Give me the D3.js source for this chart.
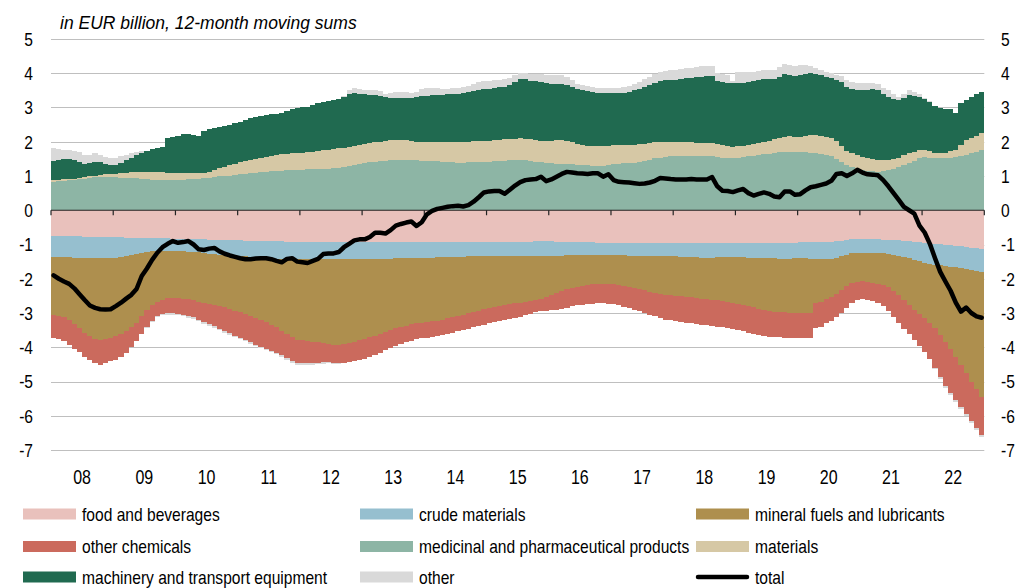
<!DOCTYPE html>
<html>
<head>
<meta charset="utf-8">
<script src="https://cdn.jsdelivr.net/npm/d3@7/dist/d3.min.js"></script>
<style>
body { margin: 0; background: #fff; }
text { font-family: "Liberation Sans", Arial, sans-serif; fill: #000; }
.title { font-style: italic; }
</style>
</head>
<body>
<div id="chart"></div>
<script>
// year labels on the x axis (monthly data, jan 2008 - dec 2022)
var years = ["08", "09", "10", "11", "12", "13", "14", "15", "16", "17", "18", "19", "20", "21", "22"];
var yTicks = [5, 4, 3, 2, 1, 0, -1, -2, -3, -4, -5, -6, -7];

// negative contributions (one line per year)
var food = [
	-.74,-.74,-.75,-.75,-.76,-.76,-.77,-.77,-.78,-.78,-.79,-.79,
	-.79,-.79,-.80,-.80,-.80,-.81,-.81,-.81,-.82,-.82,-.82,-.83,
	-.83,-.83,-.84,-.84,-.85,-.85,-.86,-.86,-.87,-.87,-.88,-.88,
	-.88,-.89,-.89,-.90,-.90,-.90,-.91,-.91,-.91,-.92,-.92,-.92,
	-.92,-.92,-.93,-.93,-.93,-.94,-.94,-.94,-.94,-.93,-.93,-.92,
	-.92,-.92,-.92,-.92,-.92,-.92,-.92,-.93,-.93,-.93,-.94,-.94,
	-.94,-.94,-.94,-.94,-.94,-.94,-.94,-.93,-.93,-.93,-.93,-.93,
	-.93,-.93,-.93,-.93,-.92,-.92,-.92,-.92,-.92,-.91,-.91,-.91,
	-.91,-.92,-.92,-.92,-.93,-.93,-.93,-.94,-.94,-.95,-.95,-.95,
	-.95,-.95,-.95,-.95,-.95,-.95,-.95,-.95,-.96,-.96,-.96,-.96,
	-.96,-.96,-.96,-.96,-.96,-.96,-.96,-.96,-.95,-.95,-.95,-.95,
	-.95,-.95,-.95,-.95,-.95,-.96,-.96,-.96,-.97,-.97,-.96,-.95,
	-.94,-.93,-.93,-.93,-.93,-.92,-.92,-.91,-.89,-.87,-.85,-.84,
	-.84,-.84,-.85,-.85,-.86,-.87,-.87,-.88,-.89,-.90,-.92,-.94,
	-.95,-.96,-.98,-.99,-1.00,-1.01,-1.03,-1.05,-1.07,-1.09,-1.11,-1.14
];
var crude = [
	-.62,-.62,-.62,-.62,-.62,-.62,-.62,-.62,-.62,-.62,-.61,-.60,
	-.59,-.57,-.53,-.50,-.47,-.43,-.40,-.38,-.36,-.36,-.36,-.36,
	-.36,-.37,-.37,-.38,-.38,-.40,-.41,-.43,-.43,-.44,-.44,-.45,
	-.46,-.46,-.47,-.47,-.48,-.49,-.49,-.50,-.51,-.51,-.51,-.51,
	-.51,-.51,-.50,-.50,-.50,-.49,-.49,-.49,-.49,-.50,-.50,-.51,
	-.51,-.51,-.51,-.50,-.50,-.49,-.48,-.47,-.46,-.45,-.45,-.44,
	-.44,-.44,-.43,-.43,-.43,-.43,-.43,-.43,-.42,-.42,-.42,-.42,
	-.42,-.42,-.42,-.42,-.43,-.43,-.43,-.43,-.43,-.43,-.42,-.42,
	-.42,-.41,-.41,-.40,-.39,-.39,-.38,-.37,-.37,-.36,-.36,-.36,
	-.36,-.37,-.37,-.38,-.38,-.39,-.39,-.40,-.39,-.39,-.39,-.39,
	-.39,-.40,-.40,-.41,-.41,-.42,-.42,-.42,-.42,-.42,-.42,-.42,
	-.42,-.42,-.43,-.43,-.44,-.44,-.44,-.44,-.44,-.45,-.45,-.45,
	-.46,-.47,-.48,-.50,-.50,-.51,-.50,-.48,-.45,-.43,-.41,-.40,
	-.40,-.40,-.39,-.39,-.40,-.41,-.43,-.45,-.47,-.50,-.52,-.55,
	-.58,-.60,-.61,-.62,-.63,-.64,-.64,-.64,-.64,-.64,-.65,-.65
];
var fuels = [
	-1.70,-1.72,-1.75,-1.83,-1.94,-2.07,-2.19,-2.29,-2.36,-2.39,-2.36,-2.33,
	-2.28,-2.24,-2.19,-2.12,-2.01,-1.86,-1.71,-1.59,-1.50,-1.44,-1.39,-1.37,
	-1.37,-1.38,-1.39,-1.41,-1.44,-1.45,-1.46,-1.47,-1.49,-1.52,-1.56,-1.60,
	-1.64,-1.68,-1.72,-1.77,-1.82,-1.88,-1.94,-2.01,-2.10,-2.19,-2.28,-2.35,
	-2.37,-2.39,-2.41,-2.43,-2.46,-2.48,-2.50,-2.50,-2.48,-2.45,-2.41,-2.37,
	-2.33,-2.28,-2.23,-2.19,-2.13,-2.09,-2.05,-2.01,-1.98,-1.95,-1.91,-1.90,
	-1.88,-1.86,-1.85,-1.82,-1.79,-1.75,-1.72,-1.69,-1.66,-1.62,-1.58,-1.54,
	-1.51,-1.47,-1.44,-1.41,-1.39,-1.37,-1.35,-1.33,-1.30,-1.28,-1.25,-1.21,
	-1.15,-1.09,-1.03,-.98,-.94,-.91,-.89,-.87,-.85,-.84,-.83,-.83,
	-.84,-.85,-.88,-.90,-.93,-.96,-1.00,-1.03,-1.07,-1.10,-1.12,-1.13,
	-1.14,-1.15,-1.16,-1.17,-1.19,-1.20,-1.22,-1.23,-1.26,-1.28,-1.30,-1.33,
	-1.36,-1.39,-1.42,-1.45,-1.48,-1.51,-1.54,-1.56,-1.56,-1.56,-1.58,-1.60,
	-1.60,-1.60,-1.58,-1.29,-1.24,-1.17,-1.11,-1.06,-.99,-.92,-.87,-.85,
	-.84,-.85,-.87,-.90,-.92,-.97,-1.05,-1.14,-1.25,-1.36,-1.47,-1.54,
	-1.62,-1.72,-1.86,-2.03,-2.21,-2.40,-2.61,-2.83,-3.05,-3.27,-3.46,-3.65
];
var chemicals = [
	-.66,-.68,-.70,-.72,-.72,-.70,-.70,-.70,-.70,-.73,-.71,-.68,
	-.70,-.68,-.64,-.58,-.54,-.50,-.48,-.44,-.40,-.40,-.44,-.45,
	-.46,-.47,-.49,-.50,-.52,-.56,-.60,-.63,-.67,-.70,-.71,-.73,
	-.74,-.75,-.77,-.78,-.78,-.77,-.76,-.74,-.72,-.70,-.69,-.68,
	-.67,-.65,-.62,-.59,-.55,-.53,-.52,-.53,-.54,-.55,-.56,-.57,
	-.58,-.58,-.56,-.55,-.54,-.53,-.52,-.50,-.49,-.48,-.47,-.46,
	-.46,-.45,-.44,-.44,-.44,-.45,-.45,-.45,-.45,-.45,-.45,-.45,
	-.44,-.45,-.45,-.45,-.44,-.43,-.42,-.39,-.37,-.36,-.37,-.39,
	-.44,-.48,-.51,-.54,-.55,-.55,-.56,-.56,-.57,-.57,-.58,-.59,
	-.60,-.61,-.62,-.63,-.64,-.65,-.66,-.67,-.68,-.70,-.72,-.73,
	-.73,-.74,-.76,-.76,-.76,-.76,-.75,-.76,-.77,-.77,-.78,-.78,
	-.78,-.78,-.78,-.78,-.77,-.76,-.75,-.74,-.74,-.74,-.74,-.73,
	-.73,-.73,-.73,-.73,-.73,-.70,-.69,-.68,-.67,-.63,-.59,-.54,
	-.52,-.53,-.55,-.58,-.61,-.70,-.77,-.83,-.85,-.86,-.88,-.94,
	-1.00,-1.07,-1.15,-1.24,-1.29,-1.30,-1.27,-1.23,-1.19,-1.15,-1.13,-1.12
];

// positive contributions
var medicinal = [
	.83,.84,.86,.87,.88,.90,.92,.94,.96,.97,.98,.97,
	.96,.95,.95,.95,.93,.92,.90,.89,.88,.88,.88,.88,
	.88,.89,.90,.91,.92,.93,.95,.97,.99,1.00,1.01,1.03,
	1.05,1.07,1.09,1.10,1.11,1.13,1.14,1.15,1.16,1.17,1.18,1.18,
	1.18,1.19,1.19,1.20,1.20,1.21,1.22,1.24,1.27,1.30,1.33,1.36,
	1.38,1.40,1.42,1.43,1.45,1.46,1.47,1.47,1.47,1.46,1.46,1.45,
	1.45,1.44,1.43,1.42,1.41,1.40,1.39,1.39,1.40,1.40,1.41,1.42,
	1.42,1.43,1.44,1.45,1.46,1.47,1.47,1.46,1.44,1.42,1.40,1.38,
	1.37,1.36,1.36,1.35,1.34,1.33,1.32,1.31,1.30,1.29,1.30,1.32,
	1.34,1.36,1.37,1.38,1.39,1.41,1.44,1.48,1.52,1.54,1.56,1.57,
	1.57,1.58,1.59,1.59,1.59,1.59,1.59,1.58,1.56,1.54,1.52,1.52,
	1.53,1.55,1.57,1.59,1.61,1.63,1.65,1.67,1.69,1.71,1.71,1.70,
	1.71,1.70,1.68,1.66,1.64,1.61,1.57,1.50,1.40,1.32,1.26,1.21,
	1.18,1.16,1.14,1.13,1.14,1.17,1.21,1.26,1.32,1.38,1.45,1.52,
	1.55,1.54,1.52,1.52,1.53,1.54,1.56,1.58,1.61,1.66,1.71,1.76
];
var materials = [
	.06,.05,.04,.04,.04,.04,.04,.05,.05,.06,.07,.08,
	.10,.13,.15,.17,.20,.21,.23,.24,.24,.23,.21,.20,
	.20,.19,.18,.17,.16,.17,.18,.20,.23,.27,.31,.33,
	.35,.36,.37,.40,.42,.43,.45,.46,.47,.48,.48,.49,
	.50,.51,.52,.53,.55,.56,.57,.57,.56,.56,.55,.55,
	.55,.56,.56,.57,.57,.58,.58,.58,.57,.56,.54,.54,
	.53,.54,.55,.56,.57,.58,.59,.60,.60,.61,.61,.61,
	.61,.61,.61,.62,.62,.62,.63,.63,.63,.63,.63,.63,
	.64,.68,.69,.68,.64,.60,.59,.58,.58,.58,.57,.56,
	.56,.55,.54,.53,.52,.51,.50,.48,.46,.45,.44,.43,
	.43,.41,.39,.39,.38,.38,.37,.38,.37,.36,.35,.34,
	.34,.33,.33,.34,.36,.37,.38,.40,.42,.44,.45,.44,
	.44,.47,.51,.54,.54,.54,.54,.52,.48,.42,.40,.39,
	.38,.37,.36,.34,.33,.31,.29,.27,.28,.28,.26,.24,
	.21,.18,.16,.14,.15,.18,.20,.32,.44,.46,.47,.49
];
var machinery = [
	.56,.58,.59,.58,.55,.48,.39,.39,.41,.37,.30,.27,
	.27,.31,.36,.42,.49,.55,.61,.65,.70,.75,1.03,1.06,
	1.08,1.15,1.14,1.11,1.09,1.20,1.23,1.23,1.21,1.19,1.17,1.18,
	1.18,1.20,1.22,1.22,1.22,1.22,1.22,1.21,1.22,1.25,1.30,1.33,
	1.33,1.32,1.35,1.39,1.42,1.43,1.43,1.44,1.47,1.52,1.54,1.49,
	1.45,1.41,1.39,1.35,1.28,1.24,1.22,1.22,1.23,1.26,1.30,1.34,
	1.37,1.39,1.39,1.39,1.40,1.41,1.42,1.43,1.44,1.46,1.48,1.50,
	1.50,1.52,1.54,1.54,1.58,1.66,1.74,1.73,1.71,1.71,1.71,1.70,
	1.67,1.64,1.64,1.63,1.62,1.60,1.59,1.58,1.56,1.55,1.55,1.54,
	1.52,1.51,1.52,1.55,1.59,1.63,1.66,1.70,1.74,1.77,1.79,1.81,
	1.81,1.84,1.87,1.88,1.91,1.93,1.96,1.96,1.83,1.84,1.84,1.85,
	1.84,1.83,1.83,1.84,1.83,1.82,1.79,1.77,1.79,1.83,1.79,1.78,
	1.80,1.81,1.81,1.78,1.76,1.75,1.75,1.78,1.86,1.86,1.89,1.91,
	1.95,1.99,2.03,2.03,1.93,1.84,1.76,1.69,1.68,1.70,1.63,1.56,
	1.49,1.45,1.37,1.32,1.28,1.23,1.09,1.24,1.17,1.20,1.22,1.21
];
// "other" changes sign, so it sits on whichever side it belongs to
var other = [
	.38,.32,.28,.27,.27,.28,.26,.24,.24,.22,.20,.20,
	.20,.19,.16,.12,.08,.04,-.03,-.04,-.05,-.05,-.05,-.05,
	-.05,-.05,-.05,-.05,-.05,-.05,-.05,-.05,-.05,-.05,-.05,-.05,
	-.05,-.05,-.05,-.05,-.05,-.05,-.05,-.05,-.05,-.05,-.05,-.05,
	-.05,-.05,-.05,-.04,-.04,-.03,-.03,-.02,.05,.12,.15,.14,
	.14,.15,.14,.12,.10,.15,.19,.19,.17,.15,.16,.20,
	.21,.20,.19,.18,.17,.17,.18,.18,.19,.21,.23,.24,
	.24,.23,.22,.22,.21,.19,.18,.19,.21,.22,.23,.24,
	.28,.27,.25,.22,.19,.17,.16,.15,.15,.15,.15,.15,
	.15,.15,.16,.17,.18,.20,.22,.24,.25,.27,.29,.29,
	.29,.30,.30,.30,.30,.30,.29,.28,.26,.25,.24,.05,
	.32,.32,.30,.28,.27,.27,.27,.26,.28,.29,.29,.29,
	.29,.25,.20,.17,.15,.15,.15,.16,.18,.20,.20,.20,
	.20,.19,.19,.18,.18,.18,.14,.10,.10,.15,.10,.06,
	.04,.02,-.03,-.04,-.05,-.05,-.05,-.06,-.06,-.07,-.07,-.07
];
var total = [
	-1.90,-2.00,-2.08,-2.15,-2.28,-2.45,-2.62,-2.78,-2.85,-2.89,-2.90,-2.89,
	-2.80,-2.70,-2.58,-2.47,-2.30,-1.92,-1.70,-1.45,-1.24,-1.08,-0.98,-0.90,
	-0.95,-0.93,-0.90,-1.00,-1.14,-1.16,-1.12,-1.10,-1.20,-1.27,-1.32,-1.36,
	-1.40,-1.43,-1.43,-1.41,-1.40,-1.40,-1.43,-1.48,-1.52,-1.42,-1.40,-1.50,
	-1.52,-1.54,-1.48,-1.42,-1.28,-1.26,-1.26,-1.22,-1.08,-0.98,-0.88,-0.85,
	-0.85,-0.78,-0.66,-0.66,-0.68,-0.58,-0.45,-0.40,-0.36,-0.33,-0.46,-0.35,
	-0.12,-0.02,0.04,0.07,0.10,0.12,0.13,0.11,0.15,0.25,0.38,0.52,
	0.55,0.56,0.56,0.48,0.60,0.72,0.82,0.88,0.90,0.91,0.98,0.85,
	0.90,0.98,1.06,1.12,1.10,1.08,1.07,1.06,1.08,1.08,0.98,1.05,
	0.88,0.83,0.82,0.81,0.79,0.77,0.78,0.81,0.86,0.94,0.93,0.91,
	0.90,0.90,0.90,0.91,0.90,0.90,0.90,0.97,0.70,0.57,0.56,0.53,
	0.58,0.62,0.50,0.43,0.48,0.52,0.48,0.40,0.38,0.55,0.55,0.45,
	0.47,0.58,0.67,0.70,0.74,0.78,0.86,1.06,1.08,1.00,1.08,1.18,
	1.10,1.05,1.04,1.02,0.88,0.70,0.50,0.30,0.10,0.00,-0.10,-0.45,
	-0.65,-0.98,-1.40,-1.80,-2.08,-2.35,-2.70,-2.96,-2.84,-3.00,-3.10,-3.14
];

var series = [
	{ key: "food", label: "food and beverages", color: "#E9C1BC", values: food },
	{ key: "crude", label: "crude materials", color: "#96BFCF", values: crude },
	{ key: "fuels", label: "mineral fuels and lubricants", color: "#AE8F4E", values: fuels },
	{ key: "chemicals", label: "other chemicals", color: "#CB6A5D", values: chemicals },
	{ key: "medicinal", label: "medicinal and pharmaceutical products", color: "#8DB5A5", values: medicinal },
	{ key: "materials", label: "materials", color: "#D6C8A5", values: materials },
	{ key: "machinery", label: "machinery and transport equipment", color: "#206A50", values: machinery },
	{ key: "other", label: "other", color: "#D9D9D9", values: other },
];

var width = 1030, height = 588;
var plotLeft = 51, plotRight = 984.3, plotTop = 39, plotBottom = 450;
var narrow = 0.82; // the labels use a condensed face, so squeeze the glyphs

var svg = d3.select("#chart").append("svg")
	.attr("width", width)
	.attr("height", height);

var months = d3.range(total.length);
var x = d3.scaleBand().domain(months).range([plotLeft, plotRight]).padding(0);
var y = d3.scaleLinear().domain([-7, 5]).range([plotBottom, plotTop]);
var bw = x.bandwidth();

// squeeze a text selection horizontally to mimic a narrow font
function condense(sel) {
	sel.each(function () {
		var len = this.getComputedTextLength();
		d3.select(this)
			.attr("textLength", len * narrow)
			.attr("lengthAdjust", "spacingAndGlyphs");
	});
}

// gridlines behind the bars
svg.append("g")
	.selectAll("line")
	.data(yTicks.filter(function (d) { return d != 0; }))
	.enter()
	.append("line")
	.attr("x1", plotLeft)
	.attr("x2", plotRight)
	.attr("y1", function (d) { return Math.round(y(d)) + 0.5; })
	.attr("y2", function (d) { return Math.round(y(d)) + 0.5; })
	.style("stroke", "#BFBFBF")
	.style("stroke-width", 1);

// stacked bars, positives above zero and negatives below
var table = months.map(function (i) {
	var row = {};
	series.forEach(function (s) { row[s.key] = s.values[i]; });
	return row;
});
var stacked = d3.stack()
	.keys(series.map(function (s) { return s.key; }))
	.offset(d3.stackOffsetDiverging)(table);

var layers = svg.append("g")
	.attr("shape-rendering", "crispEdges")
	.selectAll("g")
	.data(stacked)
	.enter()
	.append("g")
	.style("fill", function (d, k) { return series[k].color; });

layers.selectAll("rect")
	.data(function (d) { return d; })
	.enter()
	.append("rect")
	.attr("x", function (d, i) { return x(i); })
	.attr("width", bw)
	.attr("y", function (d) { return y(Math.max(d[0], d[1])); })
	.attr("height", function (d) { return Math.abs(y(d[0]) - y(d[1])); });

// zero line with year ticks
var axis = svg.append("g");
axis.append("line")
	.attr("x1", plotLeft)
	.attr("x2", plotRight)
	.attr("y1", y(0))
	.attr("y2", y(0))
	.style("stroke", "#222")
	.style("stroke-width", 1.2);
axis.selectAll(".tick")
	.data(d3.range(years.length + 1))
	.enter()
	.append("line")
	.attr("x1", function (k) { return k < years.length ? x(k * 12) : plotRight; })
	.attr("x2", function (k) { return k < years.length ? x(k * 12) : plotRight; })
	.attr("y1", y(0))
	.attr("y2", y(0) + 5)
	.style("stroke", "#222")
	.style("stroke-width", 1.2);

// net total line
var line = d3.line()
	.x(function (d, i) { return x(i) + bw / 2; })
	.y(function (d) { return y(d); });
svg.append("path")
	.datum(total)
	.attr("d", line)
	.style("fill", "none")
	.style("stroke", "#000")
	.style("stroke-width", 4.5)
	.style("stroke-linejoin", "round")
	.style("stroke-linecap", "round");

// y labels on both sides
svg.append("g")
	.selectAll("text")
	.data(yTicks)
	.enter()
	.append("text")
	.attr("x", 33)
	.attr("y", function (d) { return y(d); })
	.attr("dy", "0.36em")
	.attr("text-anchor", "end")
	.style("font-size", "19px")
	.text(function (d) { return d; })
	.call(condense);
svg.append("g")
	.selectAll("text")
	.data(yTicks)
	.enter()
	.append("text")
	.attr("x", 1001)
	.attr("y", function (d) { return y(d); })
	.attr("dy", "0.36em")
	.attr("text-anchor", "start")
	.style("font-size", "19px")
	.text(function (d) { return d; })
	.call(condense);

// year labels
svg.append("g")
	.selectAll("text")
	.data(years)
	.enter()
	.append("text")
	.attr("x", function (d, k) { return x(k * 12) + bw * 6; })
	.attr("y", 484)
	.attr("text-anchor", "middle")
	.style("font-size", "19.5px")
	.text(function (d) { return d; })
	.call(condense);

svg.append("text")
	.attr("class", "title")
	.attr("x", 60)
	.attr("y", 29)
	.style("font-size", "17.5px")
	.text("in EUR billion, 12-month moving sums");

// legend, three columns
var legendItems = series.map(function (s) { return { label: s.label, color: s.color, line: false }; });
legendItems.push({ label: "total", color: "#000", line: true });
var colX = [23, 360, 696];
var rowY = [514, 546.5, 577];

var legend = svg.append("g")
	.selectAll("g")
	.data(legendItems)
	.enter()
	.append("g")
	.attr("transform", function (d, k) {
		return "translate(" + colX[k % 3] + "," + rowY[Math.floor(k / 3)] + ")";
	});
legend.filter(function (d) { return !d.line; })
	.append("rect")
	.attr("x", 0)
	.attr("y", -5.5)
	.attr("width", 53)
	.attr("height", 11)
	.style("fill", function (d) { return d.color; });
legend.filter(function (d) { return d.line; })
	.append("line")
	.attr("x1", 2)
	.attr("x2", 51)
	.style("stroke", "#000")
	.style("stroke-width", 4.5)
	.style("stroke-linecap", "round");
legend.append("text")
	.attr("x", 59)
	.attr("dy", "0.36em")
	.style("font-size", "19px")
	.text(function (d) { return d.label; })
	.call(condense);
</script>
</body>
</html>
